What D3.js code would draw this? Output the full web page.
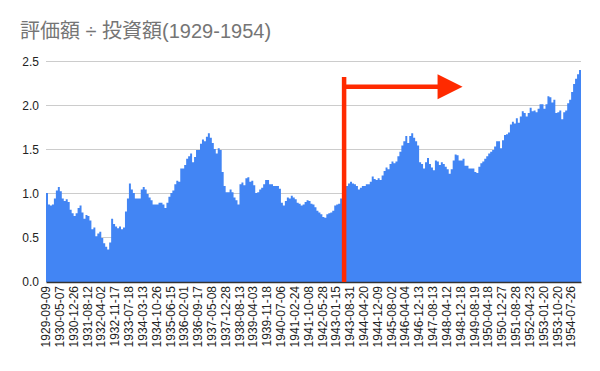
<!DOCTYPE html>
<html>
<head>
<meta charset="utf-8">
<script src="https://cdn.jsdelivr.net/npm/d3@7"></script>
<style>
  body { margin: 0; background: #fff; }
  text { font-family: "Liberation Sans", Arial, sans-serif; }
</style>
</head>
<body>
<div id="chart"></div>
<script>
// tick labels, one every 7 data points
const labelDates = ["1929-09-09","1930-05-07","1930-12-26","1931-08-12","1932-04-02","1932-11-17",
  "1933-07-18","1934-03-13","1934-10-26","1935-06-15","1936-02-01","1936-09-17","1937-05-08",
  "1937-12-28","1938-08-13","1939-04-03","1939-11-18","1940-07-06","1941-02-24","1941-10-08",
  "1942-05-28","1943-01-15","1943-08-31","1944-04-20","1944-12-09","1945-08-02","1946-04-04",
  "1946-12-13","1947-08-13","1948-04-12","1948-12-18","1949-08-19","1950-04-18","1950-12-27",
  "1951-08-28","1952-04-23","1953-01-20","1953-10-20","1954-07-26"];
const pointsPerLabel = 7;

// 評価額 ÷ 投資額
const ratio = [
  1.01,0.88,0.87,0.88,0.95,1.04,1.08,1.03,0.95,0.92,
  0.94,0.91,0.82,0.78,0.75,0.78,0.84,0.87,0.79,0.72,
  0.76,0.75,0.70,0.60,0.62,0.52,0.55,0.57,0.50,0.44,
  0.40,0.37,0.45,0.72,0.66,0.63,0.61,0.63,0.60,0.62,
  0.80,0.95,1.12,1.05,1.01,0.95,0.95,0.95,1.05,1.08,
  1.05,1.00,0.96,0.93,0.88,0.88,0.88,0.90,0.90,0.88,
  0.84,0.90,0.97,1.01,1.04,1.11,1.15,1.14,1.29,1.29,
  1.33,1.40,1.43,1.46,1.36,1.42,1.50,1.50,1.57,1.62,
  1.60,1.65,1.69,1.64,1.58,1.51,1.46,1.52,1.50,1.25,
  1.09,1.02,1.02,1.05,1.02,0.96,0.93,0.88,1.11,1.13,
  1.10,1.18,1.19,1.14,1.15,1.10,1.01,1.02,1.05,1.07,
  1.11,1.16,1.16,1.11,1.11,1.09,1.09,1.09,1.06,0.90,
  0.87,0.92,0.96,0.95,0.98,0.96,0.94,0.90,0.89,0.87,
  0.88,0.91,0.93,0.92,0.89,0.88,0.85,0.81,0.79,0.77,
  0.74,0.73,0.77,0.78,0.79,0.81,0.87,0.88,0.89,0.95,
  1.00,1.05,1.09,1.12,1.14,1.12,1.11,1.09,1.05,1.07,
  1.09,1.09,1.11,1.11,1.14,1.20,1.17,1.16,1.18,1.16,
  1.21,1.26,1.30,1.28,1.34,1.37,1.35,1.37,1.43,1.48,
  1.55,1.60,1.66,1.58,1.66,1.69,1.64,1.60,1.55,1.36,
  1.34,1.29,1.36,1.41,1.34,1.30,1.27,1.38,1.37,1.33,
  1.36,1.34,1.31,1.28,1.23,1.28,1.38,1.45,1.44,1.38,
  1.38,1.40,1.32,1.32,1.29,1.29,1.29,1.25,1.24,1.31,
  1.35,1.37,1.40,1.43,1.46,1.48,1.50,1.54,1.60,1.60,
  1.52,1.61,1.67,1.68,1.70,1.79,1.82,1.80,1.86,1.81,
  1.88,1.94,1.92,1.88,1.92,1.98,1.94,1.95,1.93,1.97,
  2.02,2.02,1.97,2.02,2.11,2.10,2.04,2.07,1.92,1.93,
  1.95,1.85,1.93,1.95,2.03,2.07,2.16,2.25,2.31,2.36,
  2.41
];
const yTicks = [0, 0.5, 1.0, 1.5, 2.0, 2.5];

// red arrow annotation (index / value units)
const arrowIdx = 151, arrowTop = 2.33, arrowY = 2.22, arrowEndIdx = 211;

const width = 600, height = 371;
const margin = {top: 62, right: 19, bottom: 89, left: 46};

const svg = d3.select("#chart").append("svg")
    .attr("width", width)
    .attr("height", height);

svg.append("text")
    .attr("x", 20)
    .attr("y", 38)
    .attr("fill", "#757575")
    .style("font-family", "'Liberation Sans', Arial, 'Noto Sans CJK JP', sans-serif")
    .style("font-size", "20px")
    .text("評価額 ÷ 投資額(1929-1954)");

const idx = d3.range(ratio.length);
const x = d3.scaleBand()
    .domain(idx)
    .range([margin.left, width - margin.right])
    .padding(0);

const y = d3.scaleLinear()
    .domain([0, 2.5])
    .range([height - margin.bottom, margin.top]);

// gridlines
svg.append("g")
    .selectAll("line")
    .data(yTicks.filter(d => d > 0))
    .join("line")
    .attr("x1", margin.left)
    .attr("x2", width - margin.right)
    .attr("y1", d => Math.round(y(d)) - 0.5)
    .attr("y2", d => Math.round(y(d)) - 0.5)
    .attr("stroke", "#cccccc");

// y labels
svg.append("g")
    .selectAll("text")
    .data(yTicks)
    .join("text")
    .attr("x", 39)
    .attr("y", d => y(d) + 4)
    .attr("text-anchor", "end")
    .attr("fill", "#222")
    .style("font-size", "12px")
    .text(d => d.toFixed(1));

// series as stepped area
const pts = ratio.map((v, i) => [x(i), v]);
pts.push([x(ratio.length - 1) + x.bandwidth(), ratio[ratio.length - 1]]);

const area = d3.area()
    .x(d => d[0])
    .y0(y(0))
    .y1(d => y(d[1]))
    .curve(d3.curveStepAfter);

svg.append("path")
    .datum(pts)
    .attr("fill", "#4285f4")
    .attr("d", area);

// x axis
const labelIdx = labelDates.map((d, k) => k * pointsPerLabel);
const xAxis = d3.axisBottom(x)
    .tickValues(labelIdx)
    .tickSize(0)
    .tickFormat(i => labelDates[i / pointsPerLabel]);

const gx = svg.append("g")
    .attr("transform", `translate(0,${y(0)})`)
    .call(xAxis);
gx.select(".domain").attr("stroke", "#333").attr("stroke-width", 1.5);
gx.selectAll("text")
    .attr("transform", "rotate(-90)")
    .attr("text-anchor", "end")
    .attr("x", -4)
    .attr("y", -1)
    .attr("dy", "0.35em")
    .attr("fill", "#222")
    .style("font-size", "12px")
    .style("font-family", "'Liberation Sans', Arial, sans-serif");

// red arrow
const red = "#ff2a00";
const ax = x(arrowIdx);
const ay = y(arrowY);
const tipX = x(arrowEndIdx);
svg.append("line")
    .attr("x1", ax).attr("x2", ax)
    .attr("y1", y(arrowTop)).attr("y2", y(0))
    .attr("stroke", red).attr("stroke-width", 4.5);
svg.append("line")
    .attr("x1", ax).attr("x2", tipX - 24)
    .attr("y1", ay).attr("y2", ay)
    .attr("stroke", red).attr("stroke-width", 4.5);
svg.append("path")
    .attr("d", `M${tipX - 25},${ay - 12.5}L${tipX},${ay}L${tipX - 25},${ay + 12.5}Z`)
    .attr("fill", red);
</script>
</body>
</html>
